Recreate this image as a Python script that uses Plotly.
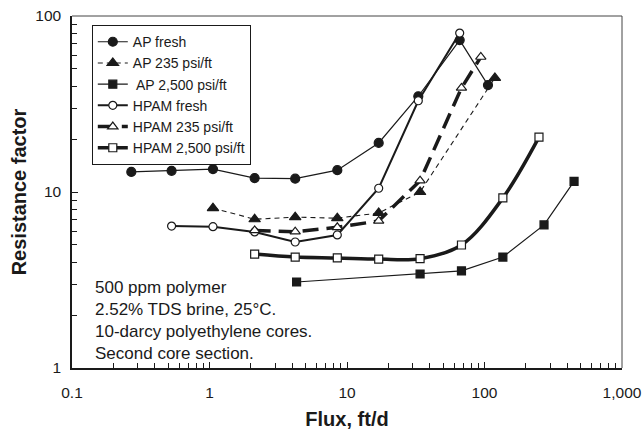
import plotly.graph_objects as go

# ---- data ----
ap_fresh_x = [0.27, 0.53, 1.06, 2.13, 4.2, 8.5, 17, 33, 66, 106]
ap_fresh_y = [13.0, 13.2, 13.5, 12.0, 11.9, 13.3, 19.0, 35.0, 73.0, 40.5]

ap235_x = [1.06, 2.13, 4.2, 8.5, 17, 34, 119]
ap235_y = [8.1, 7.0, 7.2, 7.1, 7.6, 10.0, 44.5]

ap2500_x = [4.3, 34, 68, 136, 271, 448]
ap2500_y = [3.08, 3.42, 3.56, 4.27, 6.5, 11.5]

hpam_fresh_x = [0.53, 1.06, 2.13, 4.2, 8.5, 17, 33, 66]
hpam_fresh_y = [6.4, 6.35, 5.93, 5.2, 5.7, 10.5, 33.0, 80.0]

hpam235_x = [2.13, 4.2, 8.5, 17, 34, 68, 94]
hpam235_y = [6.05, 5.95, 6.3, 6.85, 11.6, 39.0, 58.5]

hpam2500_x = [2.13, 4.2, 8.5, 17, 34, 68, 136, 249]
hpam2500_y = [4.44, 4.27, 4.22, 4.16, 4.18, 5.0, 9.25, 20.5]

x_tick_vals = [0.1, 1, 10, 100, 1000]
x_tick_text = ["0.1", "1", "10", "100", "1,000"]
y_tick_vals = [1, 10, 100]
y_tick_text = ["1", "10", "100"]

note_lines = ["500 ppm polymer", "2.52% TDS brine, 25\u00b0C.",
              "10-darcy polyethylene cores.", "Second core section."]

FONT = "Liberation Sans, Arial, sans-serif"
INK = "#1a1a1a"

fig = go.Figure()

def add(name, x, y, symbol, fill, size, width, dash="solid", shape="linear"):
    fig.add_trace(go.Scatter(
        x=x, y=y, name=name, mode="lines+markers",
        line=dict(color=INK, width=width, dash=dash, shape=shape, smoothing=1.0),
        marker=dict(symbol=symbol, size=size, color=fill,
                    line=dict(color=INK, width=1.2)),
    ))

add("AP fresh", ap_fresh_x, ap_fresh_y, "circle", INK, 9, 1.2)
add("AP 235 psi/ft", ap235_x, ap235_y, "triangle-up", INK, 10, 1.1, dash="5px,4px")
add(" AP 2,500 psi/ft", ap2500_x, ap2500_y, "square", INK, 8, 1.2)
add("HPAM fresh", hpam_fresh_x, hpam_fresh_y, "circle", "white", 8, 2.0)
add("HPAM 235 psi/ft", hpam235_x, hpam235_y, "triangle-up", "white", 9, 3.5, dash="16px,8px")
add("HPAM 2,500 psi/ft", hpam2500_x, hpam2500_y, "square", "white", 8, 3.5, shape="spline")

def minor_vals(lo, hi):
    out = []
    d = lo
    while d < hi:
        out += [d * k for k in range(2, 10)]
        d *= 10
    return out

fig.update_xaxes(
    type="log", range=[-1, 3], automargin=False, ticklabeloverflow="allow",
    tickmode="array", tickvals=x_tick_vals, ticktext=x_tick_text,
    ticks="inside", ticklen=6, tickcolor=INK, tickwidth=1, ticklabelstandoff=10,
    minor=dict(tickmode="array", tickvals=minor_vals(0.1, 1000), ticks="inside",
               ticklen=5, tickcolor=INK, tickwidth=1, showgrid=False),
    showline=True, linecolor=INK, linewidth=1.5, showgrid=False, zeroline=False,
    tickfont=dict(family=FONT, size=15.5, color=INK),
    title=dict(text="<b>Flux, ft/d</b>", font=dict(family=FONT, size=20, color=INK), standoff=12),
)
fig.update_yaxes(
    type="log", range=[0, 2], automargin=False, ticklabeloverflow="allow",
    tickmode="array", tickvals=y_tick_vals, ticktext=y_tick_text,
    ticks="inside", ticklen=6, tickcolor=INK, tickwidth=1, ticklabelstandoff=6,
    minor=dict(tickmode="array", tickvals=minor_vals(1, 100), ticks="inside",
               ticklen=5, tickcolor=INK, tickwidth=1, showgrid=False),
    showline=True, linecolor=INK, linewidth=1.5, showgrid=False, zeroline=False,
    tickfont=dict(family=FONT, size=15.5, color=INK),
    title=dict(text="<b>Resistance factor</b>", font=dict(family=FONT, size=20, color=INK), standoff=3),
)

# top and right frame lines
fig.add_shape(type="line", xref="paper", yref="paper", x0=0, x1=1, y0=1, y1=1,
              line=dict(color="#444", width=1))
fig.add_shape(type="line", xref="paper", yref="paper", x0=1, x1=1, y0=0, y1=1,
              line=dict(color="#444", width=1))

fig.add_annotation(
    xref="paper", yref="paper", x=0.038, y=0.009, xanchor="left", yanchor="bottom",
    text="<br>".join(note_lines), showarrow=False, align="left",
    font=dict(family=FONT, size=17, color=INK),
)

fig.update_layout(
    width=644, height=436,
    margin=dict(l=72, r=22, t=16, b=68),
    paper_bgcolor="white", plot_bgcolor="white",
    showlegend=True,
    legend=dict(x=0.036, y=0.974, xanchor="left", yanchor="top",
                bordercolor=INK, borderwidth=1, bgcolor="white",
                font=dict(family=FONT, size=14, color=INK),
                tracegroupgap=0, itemwidth=30),
    font=dict(family=FONT, color=INK),
)

# remove the default 8px page margin so the 644x436 figure fills the window exactly
fig.write_html("out.html", config={"displayModeBar": False},
               post_script="document.body.style.margin='0';")
